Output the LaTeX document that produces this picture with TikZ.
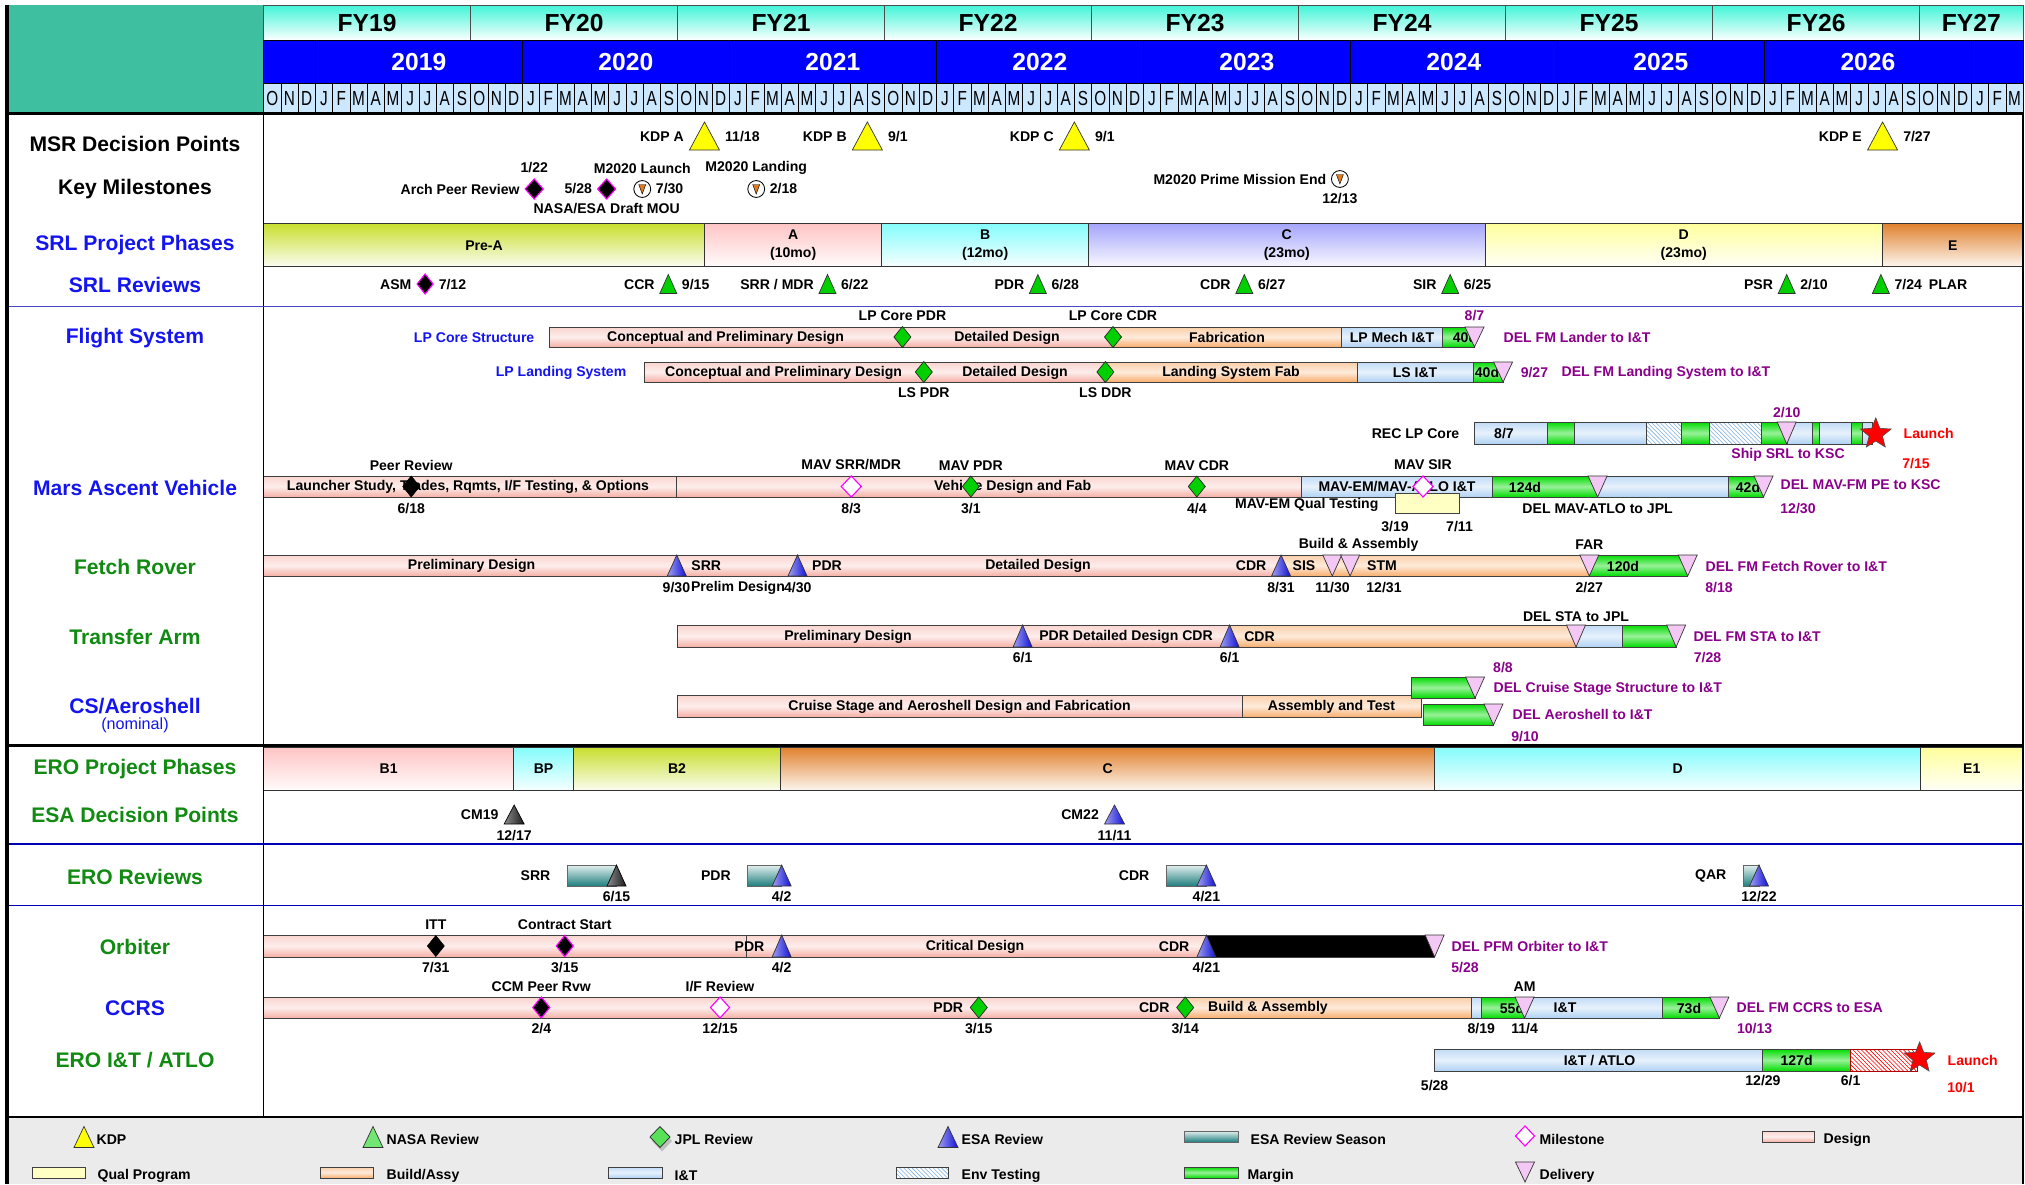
\documentclass[tikz,border=0pt]{standalone}
\usepackage{fontspec}
\setmainfont{Liberation Sans}
\newfontfamily\monthfont{Liberation Sans}[FakeStretch=0.75]
\usepackage{xcolor}
\usepackage{tikz}
\usetikzlibrary{patterns,shapes.geometric,positioning}
\definecolor{hdrteal}{HTML}{3EC0A0}
\definecolor{fytop}{HTML}{40F5D8}
\definecolor{yrblue}{HTML}{0000FF}
\definecolor{moncell}{HTML}{CCE8FF}
\definecolor{labblue}{HTML}{1414F0}
\definecolor{labgreen}{HTML}{108A10}
\definecolor{delpurple}{HTML}{8A008A}
\definecolor{seplblue}{HTML}{4848C8}
\definecolor{designc}{HTML}{F5B0A6}
\definecolor{buildc}{HTML}{F8AE6E}
\definecolor{integc}{HTML}{B0D2F4}
\definecolor{marginc}{HTML}{00DC00}
\definecolor{qualc}{HTML}{FFFFC4}
\definecolor{kdpyel}{HTML}{FFFF00}
\definecolor{nasagreen}{HTML}{00D000}
\definecolor{esablue}{HTML}{1010D8}
\definecolor{delpink}{HTML}{F4C8F4}
\definecolor{mstone}{HTML}{FF00FF}
\definecolor{tealdk}{HTML}{1E7E7E}
\definecolor{envblue}{HTML}{7FB2E2}
\definecolor{legendgray}{HTML}{EBEBEB}
\definecolor{m20org}{HTML}{E07A20}
\definecolor{phpreA}{HTML}{C8DE2C}
\definecolor{phA}{HTML}{FFC4C4}
\definecolor{phB}{HTML}{84FCFC}
\definecolor{phC}{HTML}{A4A4FC}
\definecolor{phD}{HTML}{FFFF9C}
\definecolor{phE}{HTML}{E0802C}
\tikzstyle{txt} = [font=\bfseries\fontsize{10}{12.8}\selectfont, inner sep=1pt]
\tikzstyle{deltxt} = [txt, text=delpurple]
\tikzstyle{redtxt} = [txt, text=red]
\tikzstyle{rowlab} = [font=\bfseries\fontsize{15}{18}\selectfont, inner sep=0pt]
\tikzstyle{hdr} = [font=\bfseries\fontsize{17.5}{20}\selectfont, inner sep=0pt]
\tikzstyle{mon} = [font=\monthfont\fontsize{14.5}{16}\selectfont, inner sep=0pt]
\tikzstyle{tbar} = [draw=black!75, line width=0.7pt]
\tikzstyle{design} = [tbar, top color=designc!55!white, bottom color=designc, middle color=designc!22!white]
\tikzstyle{build} = [tbar, top color=buildc!60!white, bottom color=buildc, middle color=buildc!25!white]
\tikzstyle{integ} = [tbar, top color=integc!80!white, bottom color=integc, middle color=integc!30!white]
\tikzstyle{margbar} = [tbar, top color=marginc, bottom color=marginc, middle color=marginc!40!white]
\tikzstyle{qual} = [tbar, fill=qualc]
\tikzstyle{envtest} = [tbar, preaction={fill=white}, pattern=north west lines, pattern color=envblue]
\tikzstyle{season} = [draw=black!60, line width=0.7pt, top color=tealdk!12!white, bottom color=tealdk]
\tikzstyle{phase} = [draw=black!80, line width=0.6pt]
\tikzstyle{kdptri} = [draw=black!80, line width=0.5pt, fill=kdpyel]
\tikzstyle{nasatri} = [draw=black!80, line width=0.5pt, fill=nasagreen]
\tikzstyle{esatri} = [draw=black!80, line width=0.5pt, left color=esablue!40!white, right color=esablue]
\tikzstyle{darktri} = [draw=black, line width=0.5pt, left color=black!45, right color=black!90]
\tikzstyle{jpldia} = [draw=black!85, line width=0.5pt, fill=nasagreen]
\tikzstyle{msdia} = [draw=mstone, line width=0.8pt, fill=white]
\tikzstyle{blkdia} = [draw=mstone, line width=0.8pt, fill=black]
\tikzstyle{bdia} = [draw=black, fill=black]
\tikzstyle{deliv} = [draw=black!80, line width=0.5pt, fill=delpink]
\tikzstyle{launch} = [star, star points=5, star point ratio=2.3, draw=black!70, fill=red, minimum size=23pt, inner sep=0pt]
\tikzstyle{m20} = [circle, draw=black, fill=white, minimum size=12pt, inner sep=0pt, line width=0.6pt]
% x position of a date, in px
\pgfmathdeclarefunction{when}{3}{\pgfmathparse{263.6+17.25*((#1-2018)*12+#2-10+(#3-1)/30.5)}}
\newcommand{\tri}[5][nasatri]{\draw[#1] ({#2-#4},{#3+#5}) -- ({#2},{#3-#5}) -- ({#2+#4},{#3+#5}) -- cycle;}
\newcommand{\dia}[5][jpldia]{\draw[#1] ({#2},{#3-#5}) -- ({#2+#4},{#3}) -- ({#2},{#3+#5}) -- ({#2-#4},{#3}) -- cycle;}
\newcommand{\deltri}[4][deliv]{\draw[#1] ({#2-9.5},{#3}) -- ({#2+9.5},{#3}) -- ({#2},{#4}) -- cycle;}
\newcommand{\seg}[5][design]{\draw[#1] ({#2},{#4}) rectangle ({#3},{#5});}
\newcommand{\mtwenty}[3]{\node[m20] (#3) at ({#1},#2) {};
  \draw[fill=m20org, line width=0.3pt] ({#1-3.5},{#2-4.5}) -- ({#1+3.5},{#2-4.5}) -- ({#1},{#2+5}) -- cycle;}

\begin{document}
\begin{tikzpicture}[x=0.025cm,y=-0.025cm]
\useasboundingbox (0,0) rectangle (2025,1184);
\fill[legendgray] (7,1117) rectangle (2023,1184);
% header
\fill[hdrteal] (7,5) rectangle (263.6,113);
\foreach \i in {0,...,7}{
  \pgfmathtruncatemacro\fy{19+\i}
  \draw[black!70, top color=fytop, bottom color=white] ({263.6+207*\i},5) rectangle ({470.6+207*\i},40.7);
  \node[hdr] (fy\fy) at ({367.1+207*\i},23) {FY\fy};
}
\draw[black!70, top color=fytop, bottom color=white] (1919.6,5) rectangle (2023,40.7);
\node[hdr] (fy27) at (1971.3,23) {FY27};
\draw[fill=yrblue] (263.6,40.7) rectangle (2023,83.3);
\foreach \i in {0,...,8}
  \draw ({315.35+207*\i},40.7) -- ({315.35+207*\i},83.3);
\foreach \i in {0,...,7}{
  \pgfmathtruncatemacro\yr{2019+\i}
  \node[hdr, text=white] (yr\yr) at ({418.85+207*\i},62) {\yr};
}
\foreach \yr in {0,...,7}{
  \foreach \m [count=\j from 0] in {O,N,D,J,F,M,A,M,J,J,A,S}{
    \pgfmathsetmacro\xa{263.6+207*\yr+17.25*\j}
    \draw[fill=moncell] (\xa,83.3) rectangle ++(17.25,30);
    \node[mon] (m\yr-\j) at ({\xa+8.625},98.6) {\m};
  }
}
\foreach \m [count=\j from 0] in {O,N,D,J,F,M}{
  \pgfmathsetmacro\xa{1919.6+17.25*\j}
  \draw[fill=moncell] (\xa,83.3) rectangle ++(17.25,30);
  \node[mon] (m8-\j) at ({\xa+8.625},98.6) {\m};
}

% MSR decision points and key milestones
\node[rowlab] (msr) at (135,143.5) {MSR Decision Points};
\node[rowlab] (keym) at (135,189) {Key Milestones};
\foreach \yy/\mm/\dd/\lab in {2020/11/18/A, 2021/9/1/B, 2022/9/1/C, 2026/7/27/E}{
  \tri[kdptri]{when(\yy,\mm,\dd)}{136}{15}{14}
  \node[txt, anchor=east] (kdp\lab) at ({when(\yy,\mm,\dd)-19},137) {KDP \lab};
  \node[txt, anchor=west] (kdpd\lab) at ({when(\yy,\mm,\dd)+19},137) {\mm/\dd};
}
\dia[blkdia]{when(2020,1,22)}{189}{9}{10}
\node[txt] (apr1) at ({when(2020,1,22)},168) {1/22};
\node[txt, anchor=east] (apr) at ({when(2020,1,22)-13},189) {Arch Peer Review};
\dia[blkdia]{when(2020,5,28)}{189}{9}{10}
\node[txt, anchor=east] (mou1) at ({when(2020,5,28)-13},189) {5/28};
\node[txt] (mou) at ({when(2020,5,28)},209) {NASA/ESA Draft MOU};
\mtwenty{when(2020,7,30)}{189}{m20l}
\node[txt] (m20l1) at ({when(2020,7,30)},168) {M2020 Launch};
\node[txt, anchor=west] (m20l2) at ({when(2020,7,30)+12},189) {7/30};
\mtwenty{when(2021,2,18)}{189}{m20d}
\node[txt] (m20d1) at ({when(2021,2,18)},168) {M2020 Landing};
\node[txt, anchor=west] (m20d2) at ({when(2021,2,18)+12},189) {2/18};
\mtwenty{when(2023,12,13)}{179}{m20e}
\node[txt, anchor=east] (m20e1) at ({when(2023,12,13)-12},179) {M2020 Prime Mission End};
\node[txt] (m20e2) at ({when(2023,12,13)},199) {12/13};

% SRL phases and reviews
\node[rowlab, text=labblue] (srlp) at (135,245) {SRL Project Phases};
\foreach \xa/\xb/\col/\lab [count=\i] in {263.6/704.5/phpreA/Pre-A, 704.5/881.8/phA/{A\\(10mo)}, 881.8/1088.6/phB/{B\\(12mo)}, 1088.6/1485/phC/{C\\(23mo)}, 1485/1882.5/phD/{D\\(23mo)}, 1882.5/2023/phE/E}{
  \draw[phase, top color=\col, bottom color=\col!8!white] (\xa,223) rectangle (\xb,266);
  \node[txt, align=center] (srlph\i) at ({(\xa+\xb)/2},245.5) {\lab};
}
\node[rowlab, text=labblue] (srlr) at (135,285) {SRL Reviews};
\dia[blkdia]{when(2019,7,12)}{284}{8}{10}
\node[txt, anchor=east] (asm) at ({when(2019,7,12)-12},284.5) {ASM};
\node[txt, anchor=west] (asmd) at ({when(2019,7,12)+12},284.5) {7/12};
\foreach \yy/\mm/\dd/\lab [count=\i] in {2020/9/15/CCR, 2021/6/22/{SRR / MDR}, 2022/6/28/PDR, 2023/6/27/CDR, 2024/6/25/SIR, 2026/2/10/PSR}{
  \tri{when(\yy,\mm,\dd)}{284}{8.5}{9.5}
  \node[txt, anchor=east] (srlrev\i) at ({when(\yy,\mm,\dd)-12},284.5) {\lab};
  \node[txt, anchor=west] (srlrevd\i) at ({when(\yy,\mm,\dd)+12},284.5) {\mm/\dd};
}
\tri{when(2026,7,24)}{284}{8.5}{9.5}
\node[txt, anchor=west] (plar) at ({when(2026,7,24)+12},284.5) {7/24\hspace{5pt}PLAR};

% flight system
\node[rowlab, text=labblue] (flsys) at (135,338) {Flight System};
\node[txt, text=labblue, anchor=east] (lpcs) at (536,337.5) {LP Core Structure};
\seg{when(2020,2,18)}{1113}{327}{347}
\seg[build]{1113}{1341}{327}{347}
\seg[integ]{1341}{1442.6}{327}{347}
\seg[margbar]{1442.6}{when(2024,8,7)}{327}{347}
\node[txt] (lpcs1) at (725.5,337.5) {Conceptual and Preliminary Design};
\node[txt] (lpcs2) at (1007,337.5) {Detailed Design};
\node[txt] (lpcs3) at (1227,337.5) {Fabrication};
\node[txt] (lpcs4) at (1392,337.5) {LP Mech I\&T};
\node[txt] (lpcs5) at (1465,337.5) {40d};
\dia{when(2021,11,2)}{337}{8.5}{10.5}
\node[txt] (lpcpdr) at ({when(2021,11,2)},316) {LP Core PDR};
\dia{1113}{337}{8.5}{10.5}
\node[txt] (lpccdr) at (1113,316) {LP Core CDR};
\deltri{when(2024,8,7)}{327}{347}
\node[deltxt] (lpcsd) at ({when(2024,8,7)},316) {8/7};
\node[deltxt, anchor=west] (lpcsdl) at (1502,337.5) {DEL FM Lander to I\&T};
\node[txt, text=labblue, anchor=east] (lpls) at (628,372.5) {LP Landing System};
\seg{644}{1105.4}{362}{382}
\seg[build]{1105.4}{1357}{362}{382}
\seg[integ]{1357}{1473}{362}{382}
\seg[margbar]{1473}{when(2024,9,27)}{362}{382}
\node[txt] (lpls1) at (783.6,372.5) {Conceptual and Preliminary Design};
\node[txt] (lpls2) at (1015,372.5) {Detailed Design};
\node[txt] (lpls3) at (1231,372.5) {Landing System Fab};
\node[txt] (lpls4) at (1415,372.5) {LS I\&T};
\node[txt] (lpls5) at (1487,372.5) {40d};
\dia{923.8}{372}{8.5}{10.5}
\node[txt] (lspdr) at (923.8,393) {LS PDR};
\dia{1105.4}{372}{8.5}{10.5}
\node[txt] (lsddr) at (1105.4,393) {LS DDR};
\deltri{when(2024,9,27)}{362}{382}
\node[deltxt, anchor=west] (lplsd) at ({when(2024,9,27)+16},372.5) {9/27};
\node[deltxt, anchor=west] (lplsdl) at (1560,372.5) {DEL FM Landing System to I\&T};
\node[txt, anchor=east] (reclp) at (1461,433.5) {REC LP Core};
\seg[integ]{1474.5}{1547}{422}{444}
\seg[margbar]{1547}{1574}{422}{444}
\seg[integ]{1574}{1646}{422}{444}
\seg[envtest]{1646}{1681.6}{422}{444}
\seg[margbar]{1681.6}{1709}{422}{444}
\seg[envtest]{1709}{1761}{422}{444}
\seg[margbar]{1761}{1787}{422}{444}
\seg[integ]{1787}{1812}{422}{444}
\seg[margbar]{1812}{1819}{422}{444}
\seg[integ]{1819}{1851.5}{422}{444}
\seg[margbar]{1851.5}{1862.5}{422}{444}
\seg[integ]{1862.5}{1872}{422}{444}
\node[txt] (rec87) at (1504,433.5) {8/7};
\deltri{when(2026,2,10)}{422}{444}
\node[deltxt] (shipd) at ({when(2026,2,10)},413) {2/10};
\node[deltxt] (ship) at (1788,455) {Ship SRL to KSC};
\node[launch] (srllaunch) at ({when(2026,7,15)},434) {};
\node[redtxt, anchor=west] (srll) at (1902,433.5) {Launch};
\node[redtxt] (srlld) at (1916,463.5) {7/15};

% MAV
\node[rowlab, text=labblue] (mav) at (135,487.5) {Mars Ascent Vehicle};
\seg{263.6}{676}{476}{497}
\seg{676}{1301.8}{476}{497}
\seg[integ]{1301.8}{1492.3}{476}{497}
\seg[margbar]{1492.3}{1597.6}{476}{497}
\seg[integ]{1597.6}{1728.8}{476}{497}
\seg[margbar]{1728.8}{when(2025,12,30)}{476}{497}
\node[txt] (mav1) at (468,487) {Launcher Study, Trades, Rqmts, I/F Testing, \& Options};
\node[txt] (mav2) at (1012.6,487) {Vehicle Design and Fab};
\node[txt] (mav3) at (1397,487) {MAV-EM/MAV-ATLO I\&T};
\node[txt] (mav4) at (1525,487) {124d};
\node[txt] (mav5) at (1748,487) {42d};
\seg[qual]{when(2024,3,19)}{when(2024,7,11)}{493}{513}
\dia[bdia]{when(2019,6,18)}{486.5}{8.5}{10.5}
\node[txt] (mavpr) at ({when(2019,6,18)},465) {Peer Review};
\node[txt] (mavprd) at ({when(2019,6,18)},508.5) {6/18};
\dia[msdia]{when(2021,8,3)}{486.5}{10}{10.5}
\node[txt] (mavsrr) at ({when(2021,8,3)},465) {MAV SRR/MDR};
\node[txt] (mavsrrd) at ({when(2021,8,3)},508.5) {8/3};
\dia{when(2022,3,1)}{486.5}{8.5}{10.5}
\node[txt] (mavpdr) at ({when(2022,3,1)},466) {MAV PDR};
\node[txt] (mavpdrd) at ({when(2022,3,1)},508.5) {3/1};
\dia{when(2023,4,4)}{486.5}{8.5}{10.5}
\node[txt] (mavcdr) at ({when(2023,4,4)},466) {MAV CDR};
\node[txt] (mavcdrd) at ({when(2023,4,4)},508.5) {4/4};
\dia[msdia]{1423}{486.5}{10}{10.5}
\node[txt] (mavsir) at (1423,464.5) {MAV SIR};
\deltri{1597.6}{476}{497}
\node[txt] (mavjpl) at (1597.6,508.5) {DEL MAV-ATLO to JPL};
\deltri{when(2025,12,30)}{476}{497}
\node[deltxt, anchor=west] (mavksc) at (1779,484.5) {DEL MAV-FM PE to KSC};
\node[deltxt] (mavkscd) at (1798,508.5) {12/30};
\node[txt, anchor=east] (mavq) at (1380,505) {MAV-EM Qual Testing};
\node[txt] (mavq1) at ({when(2024,3,19)},526.5) {3/19};
\node[txt] (mavq2) at ({when(2024,7,11)},526.5) {7/11};

% fetch rover
\node[rowlab, text=labgreen] (fetch) at (135,566.5) {Fetch Rover};
\seg{263.6}{when(2023,8,31)}{555}{576}
\seg[build]{when(2023,8,31)}{when(2025,2,27)}{555}{576}
\seg[margbar]{when(2025,2,27)}{when(2025,8,18)}{555}{576}
\node[txt] (fr1) at (471.6,566) {Preliminary Design};
\node[txt] (fr2) at (1038,566) {Detailed Design};
\node[txt] (fr3) at (1304,566) {SIS};
\node[txt] (fr4) at (1382,566) {STM};
\node[txt] (fr5) at (1623,566) {120d};
\tri[esatri]{when(2020,9,30)}{565.5}{9.5}{10.5}
\node[txt, anchor=west] (frsrr) at ({when(2020,9,30)+13},566) {SRR};
\tri[esatri]{when(2021,4,30)}{565.5}{9.5}{10.5}
\node[txt, anchor=west] (frpdr) at ({when(2021,4,30)+13},566) {PDR};
\tri[esatri]{when(2023,8,31)}{565.5}{9.5}{10.5}
\node[txt, anchor=east] (frcdr) at ({when(2023,8,31)-13},566) {CDR};
\deltri{when(2023,11,30)}{555}{576}
\deltri{when(2023,12,31)}{555}{576}
\deltri{when(2025,2,27)}{555}{576}
\deltri{when(2025,8,18)}{555}{576}
\node[txt] (frba) at (1358.6,544.5) {Build \& Assembly};
\node[txt] (frfar) at ({when(2025,2,27)},544.5) {FAR};
\node[txt] (frd1) at (676.4,587.5) {9/30};
\node[txt] (frd2) at (738,587.5) {Prelim Design};
\node[txt] (frd3) at (797.8,587.5) {4/30};
\node[txt] (frd4) at (1281,587.5) {8/31};
\node[txt] (frd5) at (1332.5,587.5) {11/30};
\node[txt] (frd6) at (1384,587.5) {12/31};
\node[txt] (frd7) at ({when(2025,2,27)},587.5) {2/27};
\node[deltxt, anchor=west] (frdel) at (1704,566.5) {DEL FM Fetch Rover to I\&T};
\node[deltxt] (frdeld) at (1719,587.5) {8/18};

% transfer arm
\node[rowlab, text=labgreen] (tarm) at (135,636.5) {Transfer Arm};
\seg{when(2020,10,1)}{when(2023,6,1)}{625}{647}
\seg[build]{when(2023,6,1)}{1576}{625}{647}
\seg[integ]{1576}{1622}{625}{647}
\seg[margbar]{1622}{when(2025,7,28)}{625}{647}
\node[txt] (ta1) at (848,636.5) {Preliminary Design};
\node[txt] (ta2) at (1126,636.5) {PDR Detailed Design CDR};
\node[txt, anchor=west] (ta3) at ({when(2023,6,1)+13},636.5) {CDR};
\tri[esatri]{when(2022,6,1)}{636}{9.5}{11}
\tri[esatri]{when(2023,6,1)}{636}{9.5}{11}
\deltri{1576}{625}{647}
\deltri{when(2025,7,28)}{625}{647}
\node[txt] (tajpl) at (1576,616.5) {DEL STA to JPL};
\node[txt] (tad1) at ({when(2022,6,1)},657.5) {6/1};
\node[txt] (tad2) at ({when(2023,6,1)},657.5) {6/1};
\node[deltxt, anchor=west] (tadel) at (1692,636.5) {DEL FM STA to I\&T};
\node[deltxt] (tadeld) at (1707.5,657.5) {7/28};

% cruise stage / aeroshell
\node[rowlab, text=labblue] (csaero) at (135,706) {CS/Aeroshell};
\node[font=\fontsize{11.5}{13}\selectfont, text=labblue, inner sep=0pt] (csnom) at (135,725) {(nominal)};
\seg{when(2020,10,1)}{1242}{695}{717}
\seg[build]{1242}{1421}{695}{717}
\node[txt] (cs1) at (959.6,706.5) {Cruise Stage and Aeroshell Design and Fabrication};
\node[txt] (cs2) at (1331.5,706.5) {Assembly and Test};
\seg[margbar]{1411.6}{when(2024,8,8)}{677}{698}
\seg[margbar]{1423}{when(2024,9,10)}{704}{725}
\deltri{when(2024,8,8)}{677}{698}
\deltri{when(2024,9,10)}{704}{725}
\node[deltxt] (csd1) at (1503,667.5) {8/8};
\node[deltxt, anchor=west] (csdel1) at (1492,688.5) {DEL Cruise Stage Structure to I\&T};
\node[deltxt, anchor=west] (csdel2) at (1511,714.5) {DEL Aeroshell to I\&T};
\node[deltxt] (csd2) at (1525,736.5) {9/10};

% ERO phases, decision points, reviews
\node[rowlab, text=labgreen] (erop) at (135,769) {ERO Project Phases};
\foreach \xa/\xb/\col/\lab [count=\i] in {263.6/513.6/phA/B1, 513.6/573.6/phB/BP, 573.6/780.4/phpreA/B2, 780.4/1434.8/phE/C, 1434.8/1920.6/phB/D, 1920.6/2023/phD/E1}{
  \draw[phase, top color=\col, bottom color=\col!8!white] (\xa,747) rectangle (\xb,790);
  \node[txt] (eroph\i) at ({(\xa+\xb)/2},769) {\lab};
}
\node[rowlab, text=labgreen] (esadp) at (135,814.5) {ESA Decision Points};
\tri[darktri]{when(2019,12,17)}{814.5}{10}{9.5}
\node[txt, anchor=east] (cm19) at ({when(2019,12,17)-14},814.5) {CM19};
\node[txt] (cm19d) at ({when(2019,12,17)},835.5) {12/17};
\tri[esatri]{when(2022,11,11)}{814.5}{10}{9.5}
\node[txt, anchor=east] (cm22) at ({when(2022,11,11)-14},814.5) {CM22};
\node[txt] (cm22d) at ({when(2022,11,11)},835.5) {11/11};
\node[rowlab, text=labgreen] (erorev) at (135,876.5) {ERO Reviews};
\foreach \xs/\yy/\mm/\dd/\lab/\st [count=\i] in {567/2020/6/15/SRR/darktri, 747.4/2021/4/2/PDR/esatri, 1166/2023/4/21/CDR/esatri, 1743/2025/12/22/QAR/esatri}{
  \draw[season] (\xs,865) rectangle ({when(\yy,\mm,\dd)},886);
  \tri[\st]{when(\yy,\mm,\dd)}{875.5}{9.5}{10.5}
  \node[txt, anchor=east] (erorev\i) at ({\xs-15},876) {\lab};
  \node[txt] (erorevd\i) at ({when(\yy,\mm,\dd)},896.5) {\mm/\dd};
}

% orbiter
\node[rowlab, text=labgreen] (orb) at (135,946.5) {Orbiter};
\seg{263.6}{746}{935}{957}
\seg{746}{when(2023,4,21)}{935}{957}
\draw[tbar, fill=black] ({when(2023,4,21)},935) rectangle ({when(2024,5,28)},957);
\node[txt, anchor=east] (orb1) at (766,946.5) {PDR};
\node[txt] (orb2) at (975,946.5) {Critical Design};
\node[txt, anchor=east] (orb3) at (1191,946.5) {CDR};
\dia[bdia]{when(2019,7,31)}{946}{8.5}{10.5}
\node[txt] (itt) at ({when(2019,7,31)},924.5) {ITT};
\node[txt] (ittd) at ({when(2019,7,31)},967.5) {7/31};
\dia[blkdia]{when(2020,3,15)}{946}{8.5}{10.5}
\node[txt] (cstart) at ({when(2020,3,15)},924.5) {Contract Start};
\node[txt] (cstartd) at ({when(2020,3,15)},967.5) {3/15};
\tri[esatri]{when(2021,4,2)}{946}{9.5}{11}
\node[txt] (orbpdrd) at ({when(2021,4,2)},967.5) {4/2};
\tri[esatri]{when(2023,4,21)}{946}{9.5}{11}
\node[txt] (orbcdrd) at ({when(2023,4,21)},967.5) {4/21};
\deltri{when(2024,5,28)}{935}{957}
\node[deltxt, anchor=west] (orbdel) at (1450,946.5) {DEL PFM Orbiter to I\&T};
\node[deltxt] (orbdeld) at (1465,967.5) {5/28};

% CCRS
\node[rowlab, text=labblue] (ccrs) at (135,1008) {CCRS};
\seg{263.6}{when(2023,3,14)}{997}{1018}
\seg[build]{when(2023,3,14)}{1471.7}{997}{1018}
\seg[integ]{1471.7}{when(2024,8,19)}{997}{1018}
\seg[margbar]{when(2024,8,19)}{when(2024,11,4)}{997}{1018}
\seg[integ]{when(2024,11,4)}{1662}{997}{1018}
\seg[margbar]{1662}{when(2025,10,13)}{997}{1018}
\node[txt] (cc1) at (1268,1008) {Build \& Assembly};
\node[txt] (cc2) at (1512,1008) {55d};
\node[txt] (cc3) at (1565,1008) {I\&T};
\node[txt] (cc4) at (1689,1008) {73d};
\dia[blkdia]{when(2020,2,4)}{1007.5}{8.5}{10.5}
\node[txt] (ccm) at ({when(2020,2,4)},986.5) {CCM Peer Rvw};
\node[txt] (ccmd) at ({when(2020,2,4)},1028.5) {2/4};
\dia[msdia]{when(2020,12,15)}{1007.5}{9.5}{10.5}
\node[txt] (ifr) at ({when(2020,12,15)},986.5) {I/F Review};
\node[txt] (ifrd) at ({when(2020,12,15)},1028.5) {12/15};
\dia{when(2022,3,15)}{1007.5}{8.5}{10.5}
\node[txt, anchor=east] (ccpdr) at ({when(2022,3,15)-14},1008) {PDR};
\node[txt] (ccpdrd) at ({when(2022,3,15)},1028.5) {3/15};
\dia{when(2023,3,14)}{1007.5}{8.5}{10.5}
\node[txt, anchor=east] (cccdr) at ({when(2023,3,14)-14},1008) {CDR};
\node[txt] (cccdrd) at ({when(2023,3,14)},1028.5) {3/14};
\deltri{when(2024,11,4)}{997}{1018}
\node[txt] (am) at ({when(2024,11,4)},986.5) {AM};
\node[txt] (amd) at ({when(2024,11,4)},1028.5) {11/4};
\node[txt] (cc819) at ({when(2024,8,19)},1028.5) {8/19};
\deltri{when(2025,10,13)}{997}{1018}
\node[deltxt, anchor=west] (ccdel) at (1735,1008) {DEL FM CCRS to ESA};
\node[deltxt] (ccdeld) at (1754.6,1028.5) {10/13};

% ERO I&T / ATLO
\node[rowlab, text=labgreen] (eroit) at (135,1060) {ERO I\&T / ATLO};
\seg[integ]{when(2024,5,28)}{when(2025,12,29)}{1049}{1071}
\seg[margbar]{when(2025,12,29)}{when(2026,6,1)}{1049}{1071}
\draw[tbar, draw=red!70!black, preaction={fill=white}, pattern=north west lines, pattern color=red] ({when(2026,6,1)},1049) rectangle (1917,1071);
\node[txt] (atlo1) at (1599.6,1060.5) {I\&T / ATLO};
\node[txt] (atlo2) at (1796.6,1060.5) {127d};
\node[launch] (erolaunch) at ({when(2026,10,1)},1058) {};
\node[redtxt, anchor=west] (erol) at (1946,1060.5) {Launch};
\node[redtxt] (erold) at (1961,1087.5) {10/1};
\node[txt] (atlod1) at ({when(2024,5,28)},1085.5) {5/28};
\node[txt] (atlod2) at ({when(2025,12,29)},1080.5) {12/29};
\node[txt] (atlod3) at ({when(2026,6,1)},1080.5) {6/1};

% legend
\tri[kdptri]{84}{1137}{10}{10.5}
\node[txt, anchor=west] (lgkdp) at (95,1139.5) {KDP};
\tri[nasatri, fill=nasagreen!55!white]{373}{1137}{10}{10.5}
\node[txt, anchor=west] (lgnasa) at (385,1139.5) {NASA Review};
\dia[fill=black!25, draw=none]{662}{1141}{10}{10.5}
\dia[jpldia, fill=nasagreen!65!white]{660}{1137}{10}{10.5}
\node[txt, anchor=west] (lgjpl) at (673,1139.5) {JPL Review};
\tri[esatri]{948}{1137}{10}{10.5}
\node[txt, anchor=west] (lgesa) at (960,1139.5) {ESA Review};
\draw[season] (1184,1131) rectangle (1238,1142);
\node[txt, anchor=west] (lgseason) at (1249,1139.5) {ESA Review Season};
\dia[msdia]{1525}{1136}{9.5}{10}
\node[txt, anchor=west] (lgms) at (1538,1139.5) {Milestone};
\seg{1762}{1814}{1131}{1142}
\node[txt, anchor=west] (lgdes) at (1822,1139.5) {Design};
\seg[qual]{32}{85}{1167}{1178}
\node[txt, anchor=west] (lgqual) at (96,1175.5) {Qual Program};
\seg[build]{320}{373}{1167}{1178}
\node[txt, anchor=west] (lgbuild) at (385,1175.5) {Build/Assy};
\seg[integ]{608.5}{662}{1167}{1178}
\node[txt, anchor=west] (lgint) at (673,1175.5) {I\&T};
\seg[envtest]{896.6}{948}{1167}{1178}
\node[txt, anchor=west] (lgenv) at (960,1175.5) {Env Testing};
\seg[margbar]{1184}{1238}{1167}{1178}
\node[txt, anchor=west] (lgmarg) at (1246,1175.5) {Margin};
\deltri{1525}{1162}{1182}
\node[txt, anchor=west] (lgdel) at (1538,1175.5) {Delivery};

% frame
\draw[line width=2pt] (7,113.5) -- (2023,113.5);
\draw[line width=1.2pt] (263.6,113) -- (263.6,1117);
\draw[seplblue, line width=1pt] (7,306.5) -- (2023,306.5);
\draw[line width=2.4pt] (7,745.5) -- (2023,745.5);
\draw[blue!70!black, line width=0.9pt] (7,844) -- (2023,844);
\draw[blue!70!black, line width=0.9pt] (7,905.7) -- (2023,905.7);
\draw[line width=2pt] (7,1117) -- (2023,1117);
\draw[line width=2.4pt] (7,5) -- (7,1184);
\draw[line width=1.4pt] (2023,113) -- (2023,1184);
\end{tikzpicture}
\end{document}
